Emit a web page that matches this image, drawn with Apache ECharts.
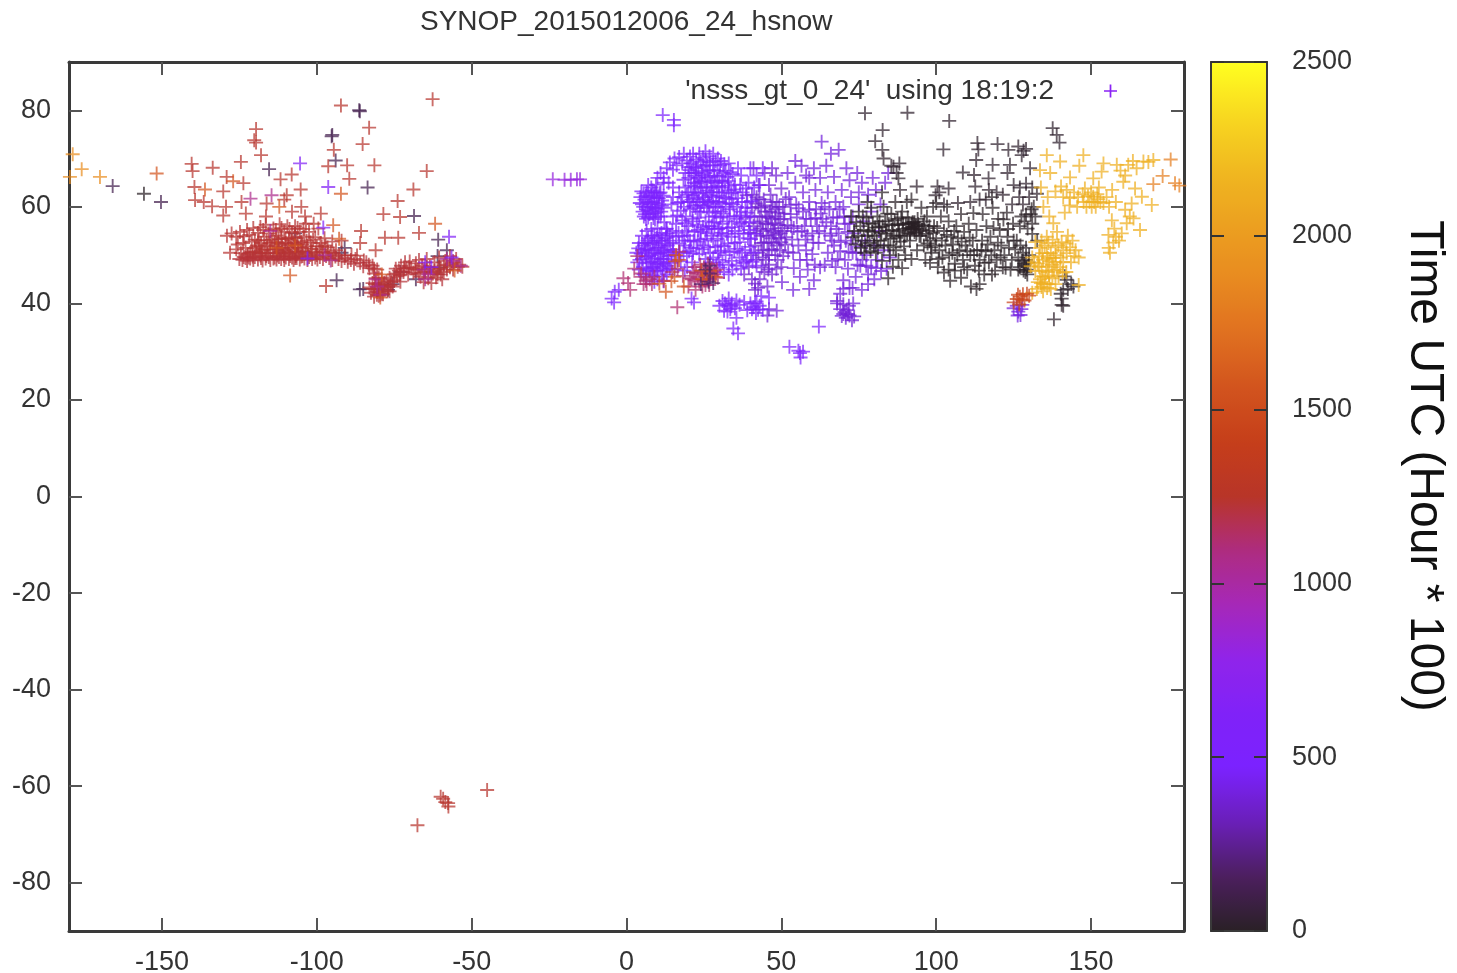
<!DOCTYPE html>
<html><head><meta charset="utf-8">
<style>html,body{margin:0;padding:0;background:#fff}#c{width:1457px;height:973px}</style>
<script src="https://cdn.jsdelivr.net/npm/echarts@6/dist/echarts.min.js"></script>
</head><body><div id="c"></div>
<script>
const titleText = 'SYNOP_2015012006_24_hsnow';
const legendText = "'nsss_gt_0_24'  using 18:19:2";
const colorbarTitle = 'Time UTC (Hour * 100)';
const xTicks = [-150,-100,-50,0,50,100,150];
const yTicks = [-80,-60,-40,-20,0,20,40,60,80];
const paletteStops = ['#2a2026','#4c1f5e','#6a1fb8','#7b22ff','#8022f8','#9024ea','#a628b8','#ae2c80','#b83528','#c63e1a','#d2541e','#e07020','#e88a20','#eca020','#f0b820','#f8d820','#ffff20'];

// [lon, lat] groups, each with one reading of the time colour
const naRedOutliers = [[-92.2,81],[-62.6,82.3],[-83.1,76.4],[-119.6,76.1],[-120.2,73.8],[-119.6,73.3],[-118,70.7],[-85.2,73],[-94.5,71.8],[-124.5,69.3],[-140.4,68.9],[-140.1,67.4],[-133.6,68.1],[-96.3,68.4],[-90.2,68.6],[-81.4,68.6],[-108.1,66.7],[-111.7,65.7],[-129.1,66.2],[-123.7,64.9],[-139.5,64.1],[-130.2,63.2],[-105.2,63.6],[-89.5,65.8],[-64.5,67.4],[-68.8,63.6],[-109.7,62.4],[-110.5,61.5],[-124.3,61],[-116.2,60.7],[-139.3,61.4],[-136.5,61],[-133.8,60.1],[-129.3,60],[-130.2,58.2],[-122.9,58.6],[-116.4,58],[-103.8,58],[-98.7,58.6],[-73.9,61.2],[-78.5,58.5],[-73.1,57.9],[-85.7,55],[-78,53.6],[-73.7,53.6],[-67,54.6],[-97,43.6],[-105,60],[-108,59],[-101,56.5],[-92,53],[-86,52.5],[-81,51]];
const naRedUpper = [[-129,54],[-127.5,54.5],[-126,53.8],[-124.8,54.8],[-123.5,53.9],[-122.5,55.2],[-121.8,54.2],[-120.5,55.6],[-120,53.2],[-119,54.6],[-118,52.5],[-118.2,55.8],[-117,53.8],[-116.5,56.3],[-116,52],[-115.5,54.5],[-115,51.2],[-114.5,53.2],[-114,55.5],[-113.5,51.8],[-113,54],[-112.5,52.6],[-112,50.8],[-112,56.4],[-111.5,53.6],[-111,51.5],[-110.5,54.8],[-110,52.5],[-109.5,50.6],[-109.5,56],[-109,53.4],[-108.5,51.5],[-108,54.6],[-107.5,52.6],[-107,50.7],[-107,56],[-106.5,53.5],[-106,51.6],[-105.5,54.8],[-105,52.7],[-104.5,50.8],[-104,53.8],[-103.5,56.5],[-103,51.8],[-102.5,54.8],[-102,52.6],[-101.5,50.7],[-100.5,53.7],[-100,51.8],[-99.5,55.5],[-98.8,52.5],[-98,50.7],[-97.5,53.5],[-96.5,51.6],[-95.5,50.6],[-95,52.8],[-93.8,51],[-128,50.5],[-126,51.2],[-124.5,50.4],[-123,51.5],[-121.5,50.5],[-120,51.4],[-118.5,50.5],[-117.5,51],[-113,50.4],[-110.8,50.2],[-106.5,50.2],[-102.8,50.3],[-119.3,52],[-121,52.8],[-123.8,52.5],[-125.5,52.2]];
const naRedDense = [[-119.6,50.7],[-118.7,53.1],[-117.8,50.3],[-116.8,51.2],[-116.2,53],[-115.8,50.4],[-115.1,52.4],[-114.2,50.5],[-113.7,52.7],[-112.8,51.2],[-112.3,53.3],[-111.6,50.5],[-111.2,52.3],[-110.3,51],[-110.1,53.4],[-109.3,52],[-108.9,50.4],[-108.2,53],[-107.8,51.2],[-107.2,53.7],[-106.2,52.3],[-105.8,50.7],[-105.2,51.5],[-104.7,52.2],[-103.6,50.6],[-103.3,53],[-101.8,51.3],[-101.2,53.2],[-100.3,50.5],[-99.2,51.2],[-98.4,51.8],[-97.2,52],[-96.4,50.5],[-113.2,55.2],[-111.4,55.6],[-108.8,55.4],[-106.2,55.6],[-104.3,55.4],[-117.3,55.2],[-118.6,51.7],[-120.8,50.6],[-122.3,50.2],[-112.7,49.9],[-110.6,49.8],[-108.6,49.8],[-106.8,49.8],[-104.6,49.8],[-116.3,49.8],[-118.2,49.9],[-120.7,49.7],[-122.4,49.9],[-100,50],[-102,50],[-113.6,49.5],[-107,49.4],[-94.5,50.3],[-92.8,50],[-90.8,49.9],[-88.8,50],[-87,49.9],[-84.8,48.9],[-83.2,48],[-81.5,47.2],[-76.2,43.8],[-77.2,42.5],[-78.2,44.3],[-79.2,43.6],[-80.2,42.9],[-81.2,44],[-82,43],[-80.6,41.8],[-79.6,42.4],[-78.6,41.9],[-74.2,46.2],[-73.2,45.8],[-71.8,47.2],[-70.2,47.5],[-68.2,47],[-67,46.2],[-65.2,47.2],[-64.5,47.5],[-63.2,46.5],[-62,46.8],[-61,46],[-60,47.3],[-59,46.5],[-58,48],[-57,47.5],[-55.8,48.5],[-54.5,47.6]];
const naRedBand = [[-125,49.2],[-124,49],[-123.6,49.6],[-123,49.4],[-122.5,48.8],[-122,49.5],[-121.5,49.3],[-120.5,49],[-120,49.6],[-119,49.1],[-118,49.4],[-117.5,48.9],[-116.5,49.3],[-115.5,49.6],[-115,49],[-114,49.3],[-113,49.1],[-112.2,49.6],[-111.5,49.2],[-110.5,49],[-110,49.5],[-109,49.2],[-108,49.5],[-107.5,49],[-106.5,49.4],[-105.5,49.1],[-105,49.7],[-104,49.3],[-103,49],[-102.5,49.6],[-101.5,49.2],[-100.5,49.5],[-99.8,49.1],[-99,49.6],[-98,49.2],[-97,49.8],[-96,49.4],[-95,49],[-94,49.7],[-93,49.2],[-92,48.8],[-91,49.4],[-90,48.6],[-89,49],[-88,48.2],[-87.5,49.2],[-86,48.4],[-85,47.7],[-84,48.5],[-83,47.3],[-82,47.8],[-81.5,46.2],[-80.5,47],[-80,45.3]];
const naRedLakes = [[-83,43.3],[-82.5,42.2],[-82,44.2],[-81.5,43],[-81.5,41.4],[-81,45.2],[-80.5,42.4],[-80,44],[-80,41.6],[-79.5,43],[-79,45],[-79,42],[-78.5,43.8],[-78,42.8],[-77.5,44.6],[-77,43.4],[-76.5,45.3],[-76.5,42.5],[-76,44.4],[-75.5,43.5],[-75,46],[-75,44.8],[-74.5,47.2],[-74,45.6],[-73.5,46.8],[-73,44.5],[-72.8,47.8],[-72,46.5],[-71.5,48.5],[-71,47.3],[-70.5,46],[-70,48.7],[-69.5,47.3],[-68.8,46.4],[-68,48.3],[-67.5,47],[-67,49],[-66.5,45.5],[-66,47.8],[-65.5,44.4],[-65,46.5],[-64.5,49.2],[-64,45.2],[-63.5,47.6],[-63,44.2],[-62.5,46.2],[-62,48.5],[-61.5,45.4],[-61,47],[-60.5,49.5],[-60,46],[-59,47.8],[-58.5,48.8],[-58,47],[-57,49.8],[-56.5,48.3],[-56,47],[-55,49.2],[-54,48],[-53,47.6],[-59.5,45]];
const naMagenta = [[-114.6,62.4],[-121.4,61.7],[-115,55],[-97.5,50],[-95.5,48.9],[-81,45],[-80.5,43.5],[-79.5,41.8],[-65.5,47],[-65,45],[-64,46],[-53.5,47.8],[-56,48.8],[-58,49.2]];
const naPurple = [[-105.4,69],[-96.3,64.1],[-97.9,55.7],[-103,49.3],[-65,48.5],[-57.3,53.8],[-63,47.5],[-56.5,49.5]];
const naOrange = [[-151.7,66.9],[-136.1,63.6],[-92.2,62.7],[-127,65.3],[-112.1,60],[-94.7,56.2],[-92.8,53.4],[-61.8,56.5],[-108.6,45.8],[-113,51.5],[-107,52],[-79,46],[-79.5,41.2],[-55.5,46.8]];
const farEast = [[-178.8,70.9],[-175.9,67.8],[-179.7,66.2],[-170,66.2]];
const dark = [[-86.1,79.8],[-86.3,80],[-95.2,74.6],[-95,74.9],[-93.9,69.6],[-115.4,67.8],[-165.9,64.3],[-150.3,61],[-83.6,64],[-68.6,58.1],[-60.8,53.2],[-93.6,44.8],[-86.1,42.9],[-85,43],[-107,54.5],[-91,51.5],[-92,50.5],[-77,42.8],[-75.5,44],[-61,49.8],[-58,51],[-73,46.5],[-68,45],[-60.5,47.4]];
const greyNear = [[-155.8,62.7]];
const antarctic = [[-67.5,-68.1],[-60,-62.2],[-59.2,-62.6],[-58.5,-63.3],[-57.5,-64.2],[-57.6,-63.5],[-45,-60.8]];
const iceland = [[-23.8,65.7],[-20,65.6],[-18,65.6],[-16,65.7],[-15,65.7]];

const euNorth = [[11.7,79],[15.3,78],[15.3,76.9],[4.5,62],[5,60.5],[5.2,59],[5.8,61.5],[6,58.5],[6.5,63],[6.8,60],[7,57.8],[7.3,62],[7.8,59.2],[8,64],[8.3,61],[8.7,57.7],[9,63],[9.3,59.7],[9.8,61.8],[10.2,58],[10.5,60.5],[11,63],[11.2,59],[11.5,61.3],[12,62.3],[12,59.8],[7,64.5],[5.5,62.8],[9.5,64.6],[10,66],[11,67],[12,66],[13,68],[13.6,65],[14,69.2],[15,67.7],[15.5,70],[16.2,68.6],[17,70.3],[18,69],[18.5,71],[19.5,69.6],[20.5,70.4],[20,68.2],[21.5,71],[22.5,69.8],[23.5,71],[24.7,70.2],[25.5,71.5],[26.8,70.5],[28,71],[29.5,70],[30.5,69.5],[33,69],[15,64],[14.5,60.5],[15,58],[13,55.5],[12.2,56.8],[16,56.5],[12,65],[15,62],
  [4.3,60.8],[5.4,60],[5.6,58],[6.2,62.3],[6.4,59.4],[6.9,61],[7.4,58.5],[7.6,60.5],[8,62.4],[8.2,59.9],[8.6,58.6],[8.9,62],[9,60.8],[9.5,58.8],[9.7,63],[10,59.6],[10.4,61.8],[10.7,62.8],[11,58],[11.4,60.2],[4.8,63.2],[8.4,63.4],[6.3,57.5],[9.2,57.4]];
const euBlob = [[18,62],[18.5,60],[19,64],[19.2,58],[19.8,61],[20,66],[20,63],[20.5,59.5],[21,67],[21,61.5],[21.3,57.5],[21.8,65],[22,63],[22.3,59.8],[22.5,68],[23,61],[23.2,66],[23.5,57.8],[24,64],[24,59],[24.3,67.4],[24.8,62],[25,60.2],[25.2,65.5],[25.5,57],[26,63.4],[26,68.6],[26.3,61],[26.6,58.8],[27,66.2],[27.2,64],[27.5,56],[28,62],[28,60],[28.3,67.6],[28.7,65],[29,58],[29.2,63],[29.6,55.4],[30,61],[30,66.5],[30.5,59],[31,64],[31,56.5],[31.5,62],[32,67.5],[32,60],[32.4,54.4],[33,65.3],[33.2,58],[33.8,62.8],[34,55.8],[34.5,60.5],[35,64.6],[35,52.5],[35.6,57.5],[36,61.8],[36.2,54.5],[37,59],[37,66.5],[37.5,63],[38,56],[38.3,51],[39,61],[39.2,53.5],[40,58],[30.5,52],[28,53],[26,54.5],[24,54.8],[29.5,50.5],[32,50],[27,50.5],[25,52],[23,52.8],[22,54.8],[20.5,53],[19,52],[18,54],[17,52.4],[36.5,49.5],[34,48.8],[31,48.5],[29,48],[39,49],[37,47.2],[41,50.5],[42,47.8],[34.2,47],[31.5,46.5],[17.5,48.7],[19.5,49.8],[21.5,50.4],[23.5,50.2],[25.5,49.2],[28,49.5],[30.2,47.4],[33,46],[39.5,55.2],[36,68],[40,68],[42,66.5],[44,68],[43,64.5],[20,56],[17.5,59.2],[16.5,60.8],
  [19.5,62.5],[20.3,61],[20.8,64.4],[21.5,62.4],[21.6,60.2],[22.2,64.2],[22.6,61.8],[22.9,59],[23.3,62.8],[23.7,60.4],[24.2,65.2],[24.5,61],[24.6,63],[25.4,61.5],[25.7,64],[26,59.8],[26.7,62.4],[26.8,60.6],[27.4,61.2],[27.6,63],[27.8,58],[28.2,64.2],[28.6,59],[28.9,61],[29.3,65.4],[29.5,60],[29.9,62.3],[30.3,57.8],[30.7,63],[31,60.6],[31.3,58.6],[31.8,65],[32.2,61.8],[32.5,57],[33,63.4],[33.4,59.5],[34,61.6],[34.3,66.8],[34.8,58],[35.3,63],[35.7,60],[36.5,56.5],[36.7,64.5],[37.3,61],[38.4,59.8],[38.6,63.8],[39.4,65],[39.7,56.8],
  [20.8,51.5],[21.7,53],[22.6,51.4],[23.8,53.2],[24.5,51.2],[25.5,53.4],[26.4,51.6],[27.4,54],[28.7,51.7],[29.4,53.4],[30.4,50.9],[31,54],[31.6,51.8],[32.8,52.4],[33.3,50.6],[33.9,53.8],[34.8,50.8],[35.8,51.3],[36.6,52.7],[37.3,50.5],[37.8,54.4],[38.6,48.7],[39.8,51.7],[40.2,53.3],[40.7,48.6],[41.5,54.4],[30,55.6],[28.4,55.5],[26.6,56],[24.7,55.8],[22.7,56.3],[33,48],[35.5,47.8],[37.8,48.4],[29.8,49],[27,48.5]];
const euFill = [[20.4,67.6],[20.9,69],[21.6,68.2],[21.9,66.4],[22.4,67],[22.8,64.8],[23.2,68.7],[23.6,65.2],[24,69.3],[24.4,66.6],[24.9,68.4],[25.5,67],[25.6,69.6],[26.2,66],[26.7,67.6],[27,69.2],[27.6,65.2],[27.9,68.6],[28.4,66.4],[28.8,69.4],[29.4,67.4],[29.8,64.2],[30.2,68.6],[30.8,65.4],[31.2,67],[31.6,68.8],[32.6,66.2],[32.8,64.4],[33.6,67.2],[18.8,56.6],[19.4,55],[18.6,53],[19.8,54],[20.2,50.8],[18.4,50.6],[17.2,50.4],[16.8,54.6],[18,57.2],[16.4,58.2],[17.6,61],[17,63],[18.4,65.6],[19,67],[21.2,48.5],[19.6,47.5],[18.8,46.8],[21.4,57],[23.1,55.2],[25.8,55.4],[28.3,56.8],[30.6,54.6],[32.9,55.6],[35,55],[37.2,56.8],[39,58.8],[40.2,61.2],[41.2,64],[36.6,58.2],[34.6,63.6],[33.2,60.8]];
const euBright = [[3.2,50.5],[4,52.5],[4.2,49],[5,54],[5,51],[5.3,47.5],[6,52.5],[6.2,49.6],[6.5,55],[7,51],[7,53.5],[7.2,46.8],[7.8,48.5],[8,55.4],[8,50],[8.3,52.6],[8.8,47.5],[9,54],[9.2,49.3],[9.6,51.5],[10,55.6],[10,46.8],[10.3,53],[10.5,48.5],[11,50.4],[11.2,52],[11.3,54.6],[11.7,47.2],[12,49.2],[12.2,51],[12.7,53.5],[12.8,55.4],[13,47.8],[13.3,52],[13.6,49.8],[14,54],[14.2,51],[14.5,48.4],[15,52.6],[15.4,50],[15.5,47],[6.2,45.5],[8.5,45.8],[10,45],[11.5,45.6],[13,46],[9,44.5],[12,44.6],[4,47],[3.5,48.5],[5.5,46],[16,53.8],[14.8,55],[16.5,49],
  [4.6,50.3],[5,49.2],[5.6,52],[5.9,50.6],[6.4,51.3],[6.6,48.3],[6.8,53],[7.3,49.8],[7.6,52.3],[7.8,47.2],[8.2,54],[8.4,48.7],[8.6,51],[9,52.6],[9.1,50.4],[9.4,46.8],[9.8,53.6],[9.9,48.2],[10.1,50.2],[10.4,51.5],[10.7,54.2],[10.9,47.6],[11.1,49.2],[11.5,53],[11.8,50.6],[11.9,48.2],[12.4,52.4],[12.5,46.8],[12.9,50.6],[13.2,54.5],[13.4,48.7],[13.8,53],[14,47.2],[14.6,50],[15,51.2],[3.8,51.4],[8.3,46.6],[6.4,47.2]];
const euCentral = [[41,68],[42,62],[42.5,60],[43,58],[43.2,55.5],[43.5,52.5],[44,49.5],[44.3,61.5],[44.8,59],[45,56.5],[45.2,54],[45.5,51],[46,64.5],[46,48],[46.5,62.5],[46.8,60],[47,57.5],[47.3,55],[47.5,52.5],[48,50],[48.3,66.5],[48.5,61],[49,58.8],[49,56.2],[49.2,53.5],[49.5,51],[50,63.8],[50,47.5],[50.5,60],[50.8,57.5],[51,55],[51.2,52.2],[40.5,62.5],[41,56],[41.5,52],[41.8,49],[42.7,64.5],[44.5,46.5],[47,46],[40.5,59.8],[47,68],[44.6,67],[41.5,44.1],[40.5,45],[42.5,43.2],[41.5,42.8],[43,45],[38,46],[39.5,47.5],[45.5,43.5],[44,51],[46.8,53.5],[48.2,54.2],[45.8,57.8],[43.5,59.8],[48,59.5],[46,50],[49.8,54.5],
  [41.3,58],[41.7,60.7],[42,54.5],[42.3,56.6],[42.6,50.5],[42.9,61.6],[43.3,54],[43.8,57],[44.1,55],[44.4,52.6],[44.7,60.3],[45,49],[45.3,58],[45.7,55.4],[46,52.7],[46.3,59],[46.6,56.4],[46.9,51.2],[47.2,61],[47.7,54.6],[47.9,56.6],[48.2,58],[48.6,52],[48.8,49],[49.3,60],[49.6,57.4],[50,52.7],[50.3,55.6],[50.6,49.8],[51,58.6],[51.4,61.6],[51.6,53.7],[52,56.2],[52.2,50.6],[43.6,47.4],[45.8,47],[48.4,47.2],[40,54.6],[40.2,50],[38.5,57.8],[38.8,62.4]];
const euEast = [[52,67],[52.5,62],[53,58.5],[53.2,56],[53.5,53.2],[53.8,50.5],[54,47.3],[54.5,65],[54.8,60.5],[55,57.8],[55.2,54.8],[55.5,52],[56,45.5],[56,49],[56.5,68.5],[57,63],[57,59],[57.5,56],[57.8,53.2],[58,51],[58.5,47],[59,66],[59,61],[59.5,57.5],[60,54.5],[60,50.2],[60.5,68],[61,63.5],[61.2,59.5],[61.5,56],[62,52.5],[62.5,66],[62.5,47.5],[63,60.8],[63.3,57.5],[64,54.5],[64.5,68.5],[65,63],[65,50.5],[65.5,59.5],[66,56],[66.3,53],[67,66.2],[67.5,61],[67.5,47.5],[68,57.8],[68.5,54.5],[69,50.8],[69.5,63.5],[70,60],[70,44.8],[70.5,56.5],[70.8,53],[71,68],[71.5,47.2],[72,65.5],[72.5,62],[73,58],[73,50.5],[73.5,54.5],[74,45.5],[74.5,67],[75,63],[75,60.5],[75.5,47.8],[76,65],[76.5,57],[77,53],[77.5,50],[78,62.5],[78,46],[79,59],[79.5,66],[80,52],[80.5,63.5],[81,49],[81.5,55],[82,60.5],[83,51],[83.5,65],[84,47.2],[85,49.5],[84.5,67],[68.5,71.8],[63,73.5],[53.8,42.8],[54.5,69.5],[58,66.5],[66,71],[70,43],[73,43.2],[72,43.2],[68,40],[78,44],[80,45],[76,42.8],[60.5,44.8],[59,43],[50.2,44.4],[69,42],[73.2,40],
  [53,60.4],[54,55.6],[55.6,59.7],[56.6,55],[58,57.5],[58.4,54],[59,59.4],[60.3,52.6],[61,57.7],[62.2,55],[62.7,58.6],[64,60],[64.5,56.8],[65.8,54],[66.7,57.8],[67,52],[67.8,55.4],[68.8,59.5],[69.2,52.7],[70.2,58],[71.4,54.8],[71.7,50.7],[72,56.5],[72.5,52.4],[74.2,50.5],[74.6,48],[75.6,51.8],[76.2,49],[77.4,47.8],[79,47.5],[80.6,47.3],[82.2,46.7],[70.5,49],[68.2,49.2],[66.4,48.8],[64,48],[60.8,48],[58.2,49]];
const euSouth = [[30,39.5],[31,40.5],[31.5,38.5],[32.3,39.7],[33,41],[33.5,38.8],[34,40],[35,39],[35.5,40.6],[36.5,39.7],[38,40.3],[39,38.6],[40,40],[41,39.2],[41.8,38],[42,40.4],[43,39.5],[44,38.7],[46,41.2],[43.5,41.5],[-4.8,41],[-3.8,42.4],[-4,40.2],[-2.5,42.8],[21,41],[21.8,40.2],[34.5,34.8],[36,33.8],[35.5,37],[52.6,31],[56,29.7],[56.2,28.8],[57,30],[55.5,30.2],[62.1,35.2],[31.8,40],[32.6,38.3],[33.8,39.4],[40.5,38.8],[41.5,40],[42.5,38.7]];
const euSouthDark = [[48.5,38.5],[45.5,37.5],[46,38.8],[71,38.6],[69,38.8],[70,37.8],[70.8,37],[72,37.5],[72.8,36.5],[73.5,37.3],[71.8,39.5],[68,40.5],[70,39.8],[70.4,38.2],[71.5,37.8],[69.5,37.4]];
const euRedDots = [[3.5,49.8],[6.2,44.7],[4.5,45.5],[7.5,45],[9,45.5],[8.2,44],[2.5,47.2],[0.5,44.2],[1.2,42.8],[-1,45.2],[16.4,39.2],[4.8,46.2],[5.5,44],[12,44.7],[6.5,44],[16.5,47.2],[17,50.7],[14.8,46.5],[18.2,45.7],[20,43.5],[22,44.8],[24.5,43.5],[21.5,46.5],[23,45.5],[24,46.8],[25.2,44.8],[26,46.5],[27,45],[27.5,47.3],[28.3,46],[29.2,47],[23.8,48],[22.3,42.8],[26.3,48.2],[29.5,45.3],[21,45],[22.5,46.3],[23.5,44.5],[25,47.5],[25.5,43.8],[26.7,43.8],[27.8,45.6],[28.5,46.8],[22,47.5],[20.5,45.2],[24.8,46],[26,45.2]];
const euOrange = [[10.6,44.1],[12.7,42.4],[15.5,45.5],[16,50],[15.7,48.7],[17,49],[14.5,44.6],[18.5,43.5],[24.2,46.8],[25.8,45.8],[27,46.8],[24.5,45],[28.8,45.5]];
const euDark = [[25.5,47],[26.8,47.8],[27,46.2],[28,44.2],[24,44],[26.5,44.5]];

const asBlackNorth = [[77,79.4],[90.7,79.5],[104.2,77.8],[82.7,75.9],[80.3,73.6],[82.6,71.8],[83,70],[102.3,71.9],[113.3,73.2],[113.6,71.9],[119.8,73],[123.3,71.8],[126.5,72.5],[128.2,71.6],[127.6,70.7],[129,72],[137.6,76.3],[138.9,74.9],[139.8,73.3],[112.9,69.7],[118.2,68.7],[123.8,68.7],[123,67],[130.3,68],[108.6,67.1],[112.2,66.6],[116.9,65.9],[86.2,68.3],[88.1,69],[85.5,68.5],[87.2,67],[87.8,65.9],[88.3,63.5],[93.7,64.2],[100.4,64.2],[104,63.8],[112.6,64.2],[101,63],[99.8,62.4],[117,63.5],[119.5,63],[121.5,62.5],[125,64.5],[127,64],[129,64.8],[131,64],[132.5,62.7],[126.8,62],[130,62],[128,60.5],[124.5,60.5],[114,61.5],[116,61.5],[111,61],[107,60.8],[102.5,60.5]];
const asBlackMid = [[72.5,58],[73.5,55],[74,52.2],[75,59],[75.5,56],[76,53],[76.8,50.5],[77.5,57.8],[78,55],[78.5,52.5],[79,59.8],[79.5,56.5],[80,54],[80.5,50.5],[81,58],[81.5,55.8],[82,53],[82.5,48.8],[83,60],[83.5,57],[84,55],[84.5,52],[85,50],[85.5,58.5],[86,56.2],[86.3,54],[86.8,61],[87,51],[87.5,57.5],[88,55],[88.5,52.8],[89,59],[89.3,56.5],[89.8,54],[90,50],[90.5,61],[90.8,57.8],[91,55.6],[91.5,53],[92,56.5],[92.2,55.3],[92.6,55.9],[93,56.8],[93,54.8],[93.5,56],[93.8,51],[94,57.5],[94.4,55.5],[95,54],[95.2,59.8],[95.8,56.2],[96,52],[96.5,49],[97,58],[97.5,55],[98,53],[98.5,50.5],[99,60],[99.3,56],[100,53.5],[100.5,47.5],[101,51],[101.5,58],[102,49.5],[102.5,55],[103,52],[103.5,60],[104,47],[104,57],[104.8,53.8],[105.2,50.5],[106,48.2],[106.5,56],[107,53.5],[107.5,51],[108,45.3],[108,58.5],[108.6,49],[109,54.8],[109.5,52],[110,47],[110.5,56.5],[111,50],[111.2,43.5],[111.8,53],[112,58.7],[112.5,47.8],[113,55.2],[113.2,51],[114,49],[114,44],[114.8,53],[115,58.5],[115.5,46],[116,50.8],[116.2,56],[117,48.5],[117.5,53.8],[118,46],[118.2,59.8],[118.8,51],[119.5,49],[120,57.5],[120.5,55.2],[121,52],[121.5,47.5],[122,50],[122.8,58.8],[123,53.8],[123.5,51.5],[124,47],[124.8,56.5],[125.5,51.2],[126,53],[126.5,49.5],[127,47.5],[127.5,58],[128,50.5],[128.5,48.2],[128.8,46.5],[129.2,47],[129.8,48.5],[129.5,55.5],[130.5,58.5],[131,56.5],[131.5,60],[132,58],[132.6,53],[130,50],[129,51.5],[89,47.3],[84.5,45.2],[104.5,44.7],[113,43],[100,60.8],[82.5,63],[77.8,61],[92,61.5],[118,62],
  [73,53.7],[74.2,56.8],[74.8,54],[75.7,51.5],[76.3,58],[76.6,55.2],[77.2,52],[77.8,54],[78.2,56.6],[78.8,50.8],[79.3,54.8],[79.8,52],[80.3,55.7],[80.8,53],[81.2,51.5],[81.7,57],[82.3,54.6],[82.7,56],[83.2,52],[83.7,54.4],[84.2,58.6],[84.7,56.4],[85.2,53.4],[85.7,55.2],[86.2,51.6],[86.6,57.2],[87.2,53.6],[87.7,56.2],[88.2,54],[88.7,57.8],[89.2,55.4],[89.6,51.8],[90.2,56.4],[90.6,54.6],[91.2,56.6],[91.6,54.4],[91.9,55.6],[92.4,56.8],[92.8,55.5],[93.2,55.9],[93.6,54.6],[94.2,56.4],[94.6,54],[95.4,55.2],[96.2,57],[96.7,54.4],[97.2,52.4],[97.8,56],[98.3,51.6],[99,54.6],[99.7,52],[100.3,55.6],[100.8,49.2],[101.8,53],[103.4,54.2],[104.2,50],[105.4,52.2],[105.8,55],[106.8,50],[108.2,52.8],[109,47.5],[110,50.8],[110.8,53.6],[112.2,50],[113.8,46.8],[114.6,51],[115.6,48.4],[116.6,52.2],[117.8,50],[119,46.8],[119.9,52.6],[120.8,49.5],[122.4,47.4],[124.4,49],[125,53],[126.5,47],[127.6,48.8],[128.2,46.8],[128.4,47.8],[129,49],[129.4,46],[127.2,52],[123.2,55.4],[118.5,55.6],[121.7,57.4],[127,56],[129,58.4],[131,54.4],[130.8,59.5],[128.5,57],[106,46.8],[102.5,46.4],[98,48.4],[92,49.2],[87.8,49],[86,47.6]];
const asBlackEast = [[138,36.7],[140.5,39.7],[141,39.5],[140.5,41],[141,42.8],[142.1,44.9],[143.6,44],[144.3,43.5],[141.5,45.6],[140.2,42],[142.5,43]];
const asOrange = [[135.7,70.7],[140,69.4],[147.5,70.7],[146.2,68.5],[133.5,67.6],[136.8,67],[143.2,66.1],[150.7,65.9],[154,69],[153.4,67.3],[158.3,68.7],[162,68.7],[164.7,68],[166.9,69.4],[170.1,69.7],[168.5,69.3],[163.5,69.5],[160.4,65.2],[164.2,63.8],[166.4,62.1],[169.6,60.4],[163.1,60.7],[161,59.4],[156.7,57.2],[155.6,54.2],[158,53.8],[156.1,50.5],[155.7,51.5],[159.9,54.5],[161.5,56.6],[165.8,55.2],[163.7,57.6],[162.5,58],[159,53],[157.2,52.6],[157.5,55.5],[142.1,63.5],[144.5,63],[140.3,64.2],[138.5,63.2],[147.3,62.6],[150.7,62.1],[149.5,61],[152,62.6],[153,61],[155,62],[151.5,60],[148.5,60],[145.5,60],[156.8,63.5],[158,61],[143,60.3],[141.5,58.8],[134.6,60],[136,62],[133.8,64],[137.8,56.6],[136.5,58],[139,54.8],[135.7,53.8],[132,52.7],[133.5,51.5],[135,52],[137,50.4],[135.7,50.4],[138.5,51.6],[140.5,52.7],[142.5,54],[144,53],[145,51],[146,49.5],[142.1,50.4],[143.5,48.5],[140.2,49.5],[138.5,48.5],[136.5,48.7],[134.5,49],[132.8,48.3],[131,49.5],[130.5,47.7],[132,46.7],[134,46.8],[136,46.5],[138,46.8],[140,47.5],[142,46.5],[135.2,45.5],[137.5,45.2],[136.5,44],[133.8,44.2],[134.5,42.5],[132.5,43],[135.8,43.2],[138.5,44],[131,42.2],[146,43.8],
  [134,53],[136.2,52.5],[137.6,53.2],[138.6,50],[139.4,52],[141,51],[142,52.4],[143.2,51.6],[144.6,49.8],[141,48.6],[139,47],[137.4,48],[135.5,47.6],[133.2,49.8],[131.6,48.5],[133.2,47.6],[134.4,45.6],[136.4,45.8],[133.5,45],[132.8,44.4],[135,44],[137,43],[134,43.4],[139.5,45.6],[137.8,49.4],[136,49.4],[134.2,50.4],[140.8,46.4],[150,63],[151,61],[149,62.2],[152.2,61.6],[150.2,60],[147.6,61],[154,60.8],[148,63.8],[152.5,64],[155.8,60],[143.2,61.8],[145.8,62],[141,62],[159.5,67.5],[161,66.5]];
const asOrangeRed = [[175.7,69.8],[173.1,66.4],[170.1,64.7],[177.1,64.9],[178.5,64.4]];
const korea = [[125,40.2],[126,40.9],[127,41.4],[128,41.9],[128.5,40.6],[129.3,42],[126.8,39.8],[130,41.6],[127.6,40.8],[126.4,41.8]];
const koreaDark = [[125,39],[126,39.5],[126.5,38.3],[127.5,38.8],[126.3,37.5],[127.2,37.6],[127.8,39.7]];

const groups = [
  {pts:greyNear,t:0},{pts:dark,t:110},{pts:naRedOutliers,t:1240},{pts:naRedUpper,t:1230},{pts:naRedDense,t:1230},{pts:naRedBand,t:1220},{pts:naRedLakes,t:1220},
  {pts:naMagenta,t:1060},{pts:naPurple,t:640},{pts:naOrange,t:1560},{pts:farEast,t:1900},{pts:antarctic,t:1240},{pts:iceland,t:820},
  {pts:euEast,t:390},{pts:euCentral,t:370},{pts:euSouthDark,t:380},{pts:euBlob,t:480},{pts:euFill,t:490},{pts:euNorth,t:520},{pts:euSouth,t:520},{pts:euBright,t:520},{pts:euRedDots,t:1120},{pts:euOrange,t:1560},{pts:euDark,t:170},
  {pts:asBlackNorth,t:20},{pts:asBlackMid,t:0},{pts:asBlackEast,t:10},{pts:asOrange,t:2120},{pts:asOrangeRed,t:1800},{pts:koreaDark,t:400},{pts:korea,t:1450}
];
const points = [];
groups.forEach(g => g.pts.forEach(p => points.push([p[0],p[1],g.t])));

const plus = 'path://M5.2 0H6.8V12H5.2Z M0 5.2H12V6.8H0Z';
const font = '"Liberation Sans",Arial,sans-serif';
const ink = '#3a3a3a';
const labelFont = {color:'#333',fontFamily:font,fontSize:27};
const mainAxis = (extra) => Object.assign({
  min:-90,max:90,type:'value',splitLine:{show:false},
  axisLine:{show:true,onZero:false,lineStyle:{color:ink,width:3}}
},extra);
const tick = (vals) => ({show:true,inside:true,length:13,customValues:vals,lineStyle:{color:'#555',width:2}});
const chart = echarts.init(document.getElementById('c'),null,{renderer:'canvas'});
chart.setOption({
  animation:false,backgroundColor:'#fff',
  title:{text:titleText,left:415,top:3,textStyle:{fontFamily:font,fontSize:28,fontWeight:'normal',color:'#333'}},
  grid:[{left:69,top:62,width:1115,height:869,outerBoundsMode:'none'},{left:1211,top:62,width:56,height:869,outerBoundsMode:'none'}],
  xAxis:[
    mainAxis({min:-180,max:180,gridIndex:0,position:'bottom',axisTick:tick(xTicks),axisLabel:Object.assign({show:true,margin:18,customValues:xTicks},labelFont)}),
    mainAxis({min:-180,max:180,gridIndex:0,position:'top',axisTick:tick(xTicks),axisLabel:{show:false}}),
    {type:'value',gridIndex:1,min:0,max:1,position:'bottom',z:10,splitLine:{show:false},axisLabel:{show:false},axisTick:{show:false},axisLine:{show:true,onZero:false,lineStyle:{color:ink,width:2}}},
    {type:'value',gridIndex:1,min:0,max:1,position:'top',z:10,splitLine:{show:false},axisLabel:{show:false},axisTick:{show:false},axisLine:{show:true,onZero:false,lineStyle:{color:ink,width:2}}}
  ],
  yAxis:[
    mainAxis({gridIndex:0,position:'left',axisTick:tick(yTicks),axisLabel:Object.assign({show:true,margin:18,customValues:yTicks},labelFont)}),
    mainAxis({gridIndex:0,position:'right',axisTick:tick(yTicks),axisLabel:{show:false}}),
    {type:'value',gridIndex:1,min:0,max:2500,interval:500,position:'right',z:10,splitLine:{show:false},axisLine:{show:true,onZero:false,lineStyle:{color:ink,width:2}},axisTick:{show:true,inside:true,length:13,lineStyle:{color:'#333',width:2}},axisLabel:Object.assign({show:true,margin:25,formatter:v=>String(v)},labelFont)},
    {type:'value',gridIndex:1,min:0,max:2500,interval:500,position:'left',z:10,splitLine:{show:false},axisLine:{show:true,onZero:false,lineStyle:{color:ink,width:2}},axisTick:{show:true,inside:true,length:13,lineStyle:{color:'#333',width:2}},axisLabel:{show:false}}
  ],
  visualMap:{type:'continuous',seriesIndex:0,dimension:2,min:0,max:2500,calculable:false,realtime:false,showLabel:false,text:[],left:1211,top:62,itemWidth:56,itemHeight:869,padding:0,inRange:{color:paletteStops}},
  legend:{show:true,right:335,top:72,align:'right',itemWidth:13,itemHeight:13,selectedMode:false,data:[{name:legendText,icon:plus,itemStyle:{color:'#8a22f5',opacity:1}}],textStyle:{fontFamily:font,fontSize:28,color:'#333',padding:[0,45,0,0]}},
  series:[{type:'scatter',name:legendText,xAxisIndex:0,yAxisIndex:0,symbol:plus,symbolSize:14,data:points,silent:true,itemStyle:{color:'#8a22f5',opacity:0.72}}],
  graphic:[{type:'text',rotation:-Math.PI/2,x:1424,y:466,style:{text:colorbarTitle,fontFamily:font,fontSize:48,fill:'#111',textAlign:'center',textVerticalAlign:'middle'}}]
});
</script></body></html>
